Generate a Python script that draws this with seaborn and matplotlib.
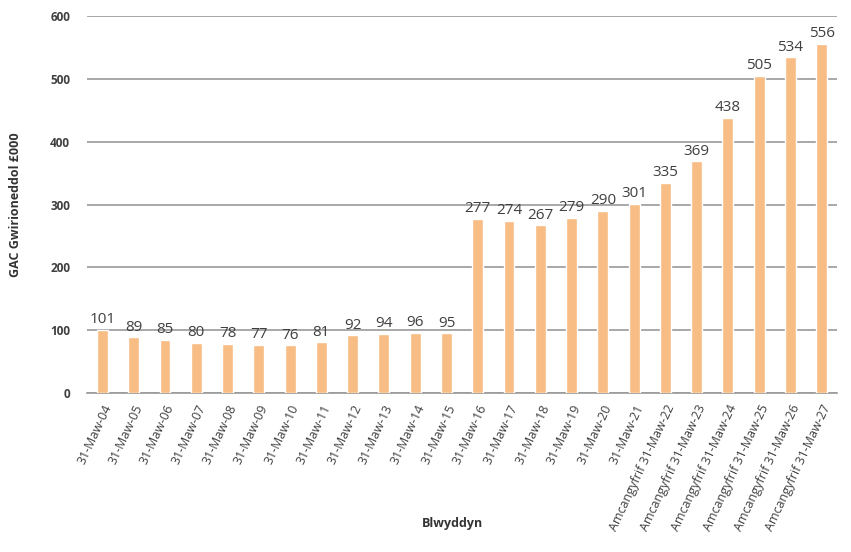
import matplotlib
matplotlib.use("Agg")
import matplotlib.pyplot as plt
import pandas as pd
import seaborn as sns

# Values
years = [f"31-Maw-{y:02d}" for y in range(4, 22)]
forecast_years = [f"Amcangyfrif 31-Maw-{y:02d}" for y in range(22, 28)]
labels = years + forecast_years
values = [101, 89, 85, 80, 78, 77, 76, 81, 92, 94, 96, 95,
          277, 274, 267, 279, 290, 301, 335, 369, 438, 505, 534, 556]

df = pd.DataFrame({"label": labels, "value": values})

sns.set_style("white")
plt.rcParams["font.family"] = ["Open Sans", "DejaVu Sans"]

fig = plt.figure(figsize=(8.51, 5.52), dpi=100)
ax = fig.add_axes([0.102, 0.288, 0.882, 0.683])

sns.barplot(data=df, x="label", y="value", color="#F8BD85", width=0.35,
            saturation=1, ax=ax, zorder=3)

ax.set_ylim(0, 600)
ax.set_xlim(-0.5, len(labels) - 0.5)
ax.set_yticks(range(0, 601, 100))
ax.yaxis.grid(True, color="#9a9a9a", linewidth=1.2, zorder=0)
ax.set_axisbelow(True)
for side in ["top", "right", "left"]:
    ax.spines[side].set_visible(False)
ax.spines["bottom"].set_color("#9a9a9a")
ax.spines["bottom"].set_linewidth(1.2)
ax.tick_params(axis="y", length=0, pad=12, labelsize=8.5, labelcolor="#404040")
ax.tick_params(axis="x", length=0, pad=7, labelsize=9, labelcolor="#404040")
for t in ax.get_yticklabels():
    t.set_fontweight("bold")
plt.setp(ax.get_xticklabels(), rotation=65, ha="right", rotation_mode="anchor")

for i, v in enumerate(values):
    ax.text(i, v + 4, str(v), ha="center", va="bottom", fontsize=11,
            color="#404040")

ax.set_xlabel("Blwyddyn", fontsize=9, fontweight="bold", color="#333333")
ax.xaxis.set_label_coords(0.487, -0.33)
ax.set_ylabel("GAC Gwirioneddol £000", fontsize=9, fontweight="bold",
              color="#333333", labelpad=20)

fig.savefig("out.png", dpi=100)
